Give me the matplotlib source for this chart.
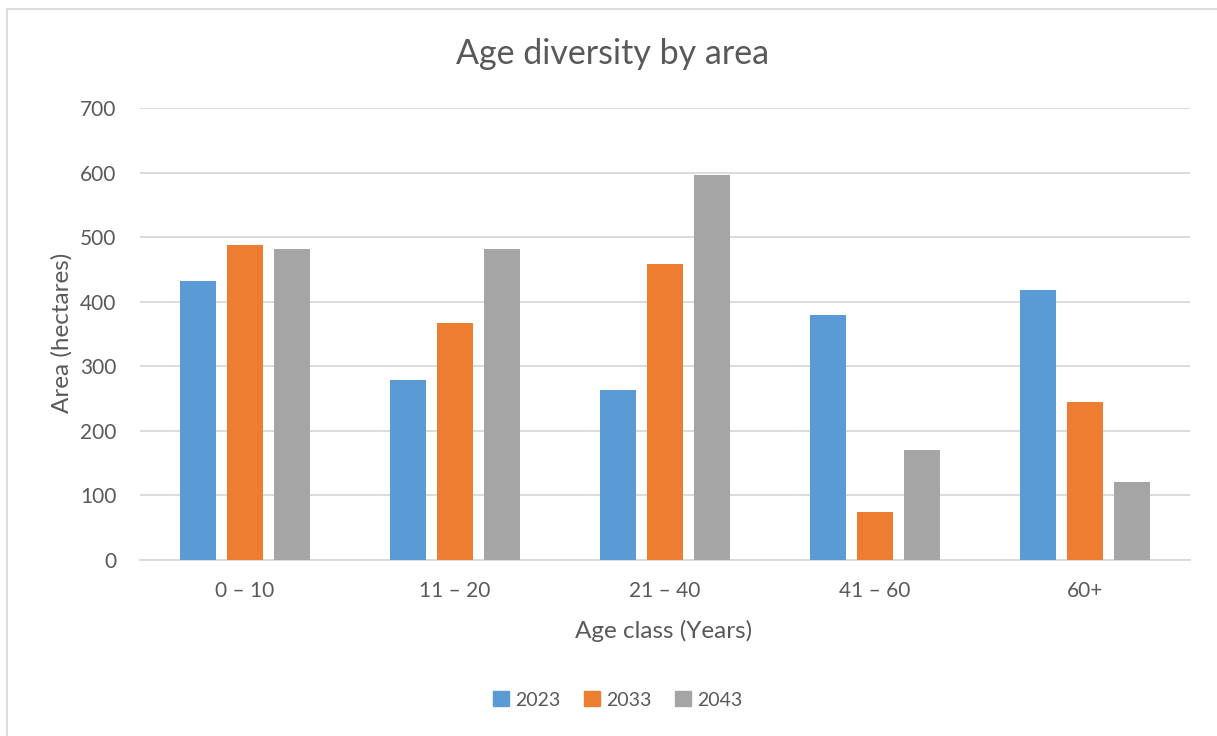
import matplotlib
matplotlib.use("Agg")
import matplotlib.pyplot as plt
import numpy as np
from matplotlib.lines import Line2D

categories = ["0 – 10", "11 – 20", "21 – 40", "41 – 60", "60+"]
series_names = ["2023", "2033", "2043"]
values_2023 = [432, 278, 263, 380, 418]
values_2033 = [488, 367, 459, 75, 244]
values_2043 = [482, 482, 596, 171, 121]
colors = ["#5B9BD5", "#ED7D31", "#A5A5A5"]

plt.rcParams['font.family'] = ['Lato', 'DejaVu Sans']
text_color = "#595959"

W, H = 1217, 736
fig = plt.figure(figsize=(W / 100, H / 100), dpi=100)
# plot area: x 140..1190, y 108..560 (pixels from top)
ax = fig.add_axes([140 / W, 1 - 560 / H, 1050 / W, 452 / H])

x = np.arange(len(categories))
pitch = 0.224
width = 0.171
for i, (vals, name) in enumerate(zip([values_2023, values_2033, values_2043], series_names)):
    ax.bar(x + (i - 1) * pitch, vals, width=width, color=colors[i], label=name, zorder=3)

ax.set_xlim(-0.5, len(categories) - 0.5)
ax.set_ylim(0, 700)
ax.set_yticks(range(0, 701, 100))
ax.set_xticks(x)
ax.set_xticklabels(categories)
ax.grid(axis='y', color='#D9D9D9', linewidth=1.3, zorder=0)
for s in ['top', 'right', 'left']:
    ax.spines[s].set_visible(False)
ax.spines['bottom'].set_color('#D9D9D9')
ax.spines['bottom'].set_linewidth(1.3)
ax.tick_params(axis='both', length=0, colors=text_color, labelsize=15)
ax.tick_params(axis='y', pad=17)
ax.tick_params(axis='x', pad=15)

ax.set_xlabel("Age class (Years)", fontsize=17.5, color=text_color)
ax.set_ylabel("Area (hectares)", fontsize=17.5, color=text_color)
ax.xaxis.set_label_coords((664 - 140) / 1050, -(631 - 560) / 452)
ax.xaxis.label.set_va('center')
ax.yaxis.set_label_coords(-(140 - 62) / 1050, (560 - 333) / 452)
ax.yaxis.label.set_va('center')

fig.text(613 / W, 1 - 54 / H, "Age diversity by area", ha='center', va='center',
         fontsize=24.5, color=text_color)

handles = [plt.Rectangle((0, 0), 1, 1, color=c) for c in colors]
fig.legend(handles, series_names, loc='center', bbox_to_anchor=(618 / W, 1 - 700 / H),
           ncol=3, frameon=False, fontsize=14, labelcolor=text_color,
           handlelength=0.8, handleheight=0.8, handletextpad=0.35, columnspacing=1.2)

# outer chart border (top and left visible)
fig.add_artist(Line2D([7 / W, 1], [1 - 9 / H, 1 - 9 / H], color='#D9D9D9', linewidth=1.3,
                      transform=fig.transFigure))
fig.add_artist(Line2D([7 / W, 7 / W], [0, 1 - 9 / H], color='#D9D9D9', linewidth=1.3,
                      transform=fig.transFigure))

fig.savefig("out.png", dpi=100)
